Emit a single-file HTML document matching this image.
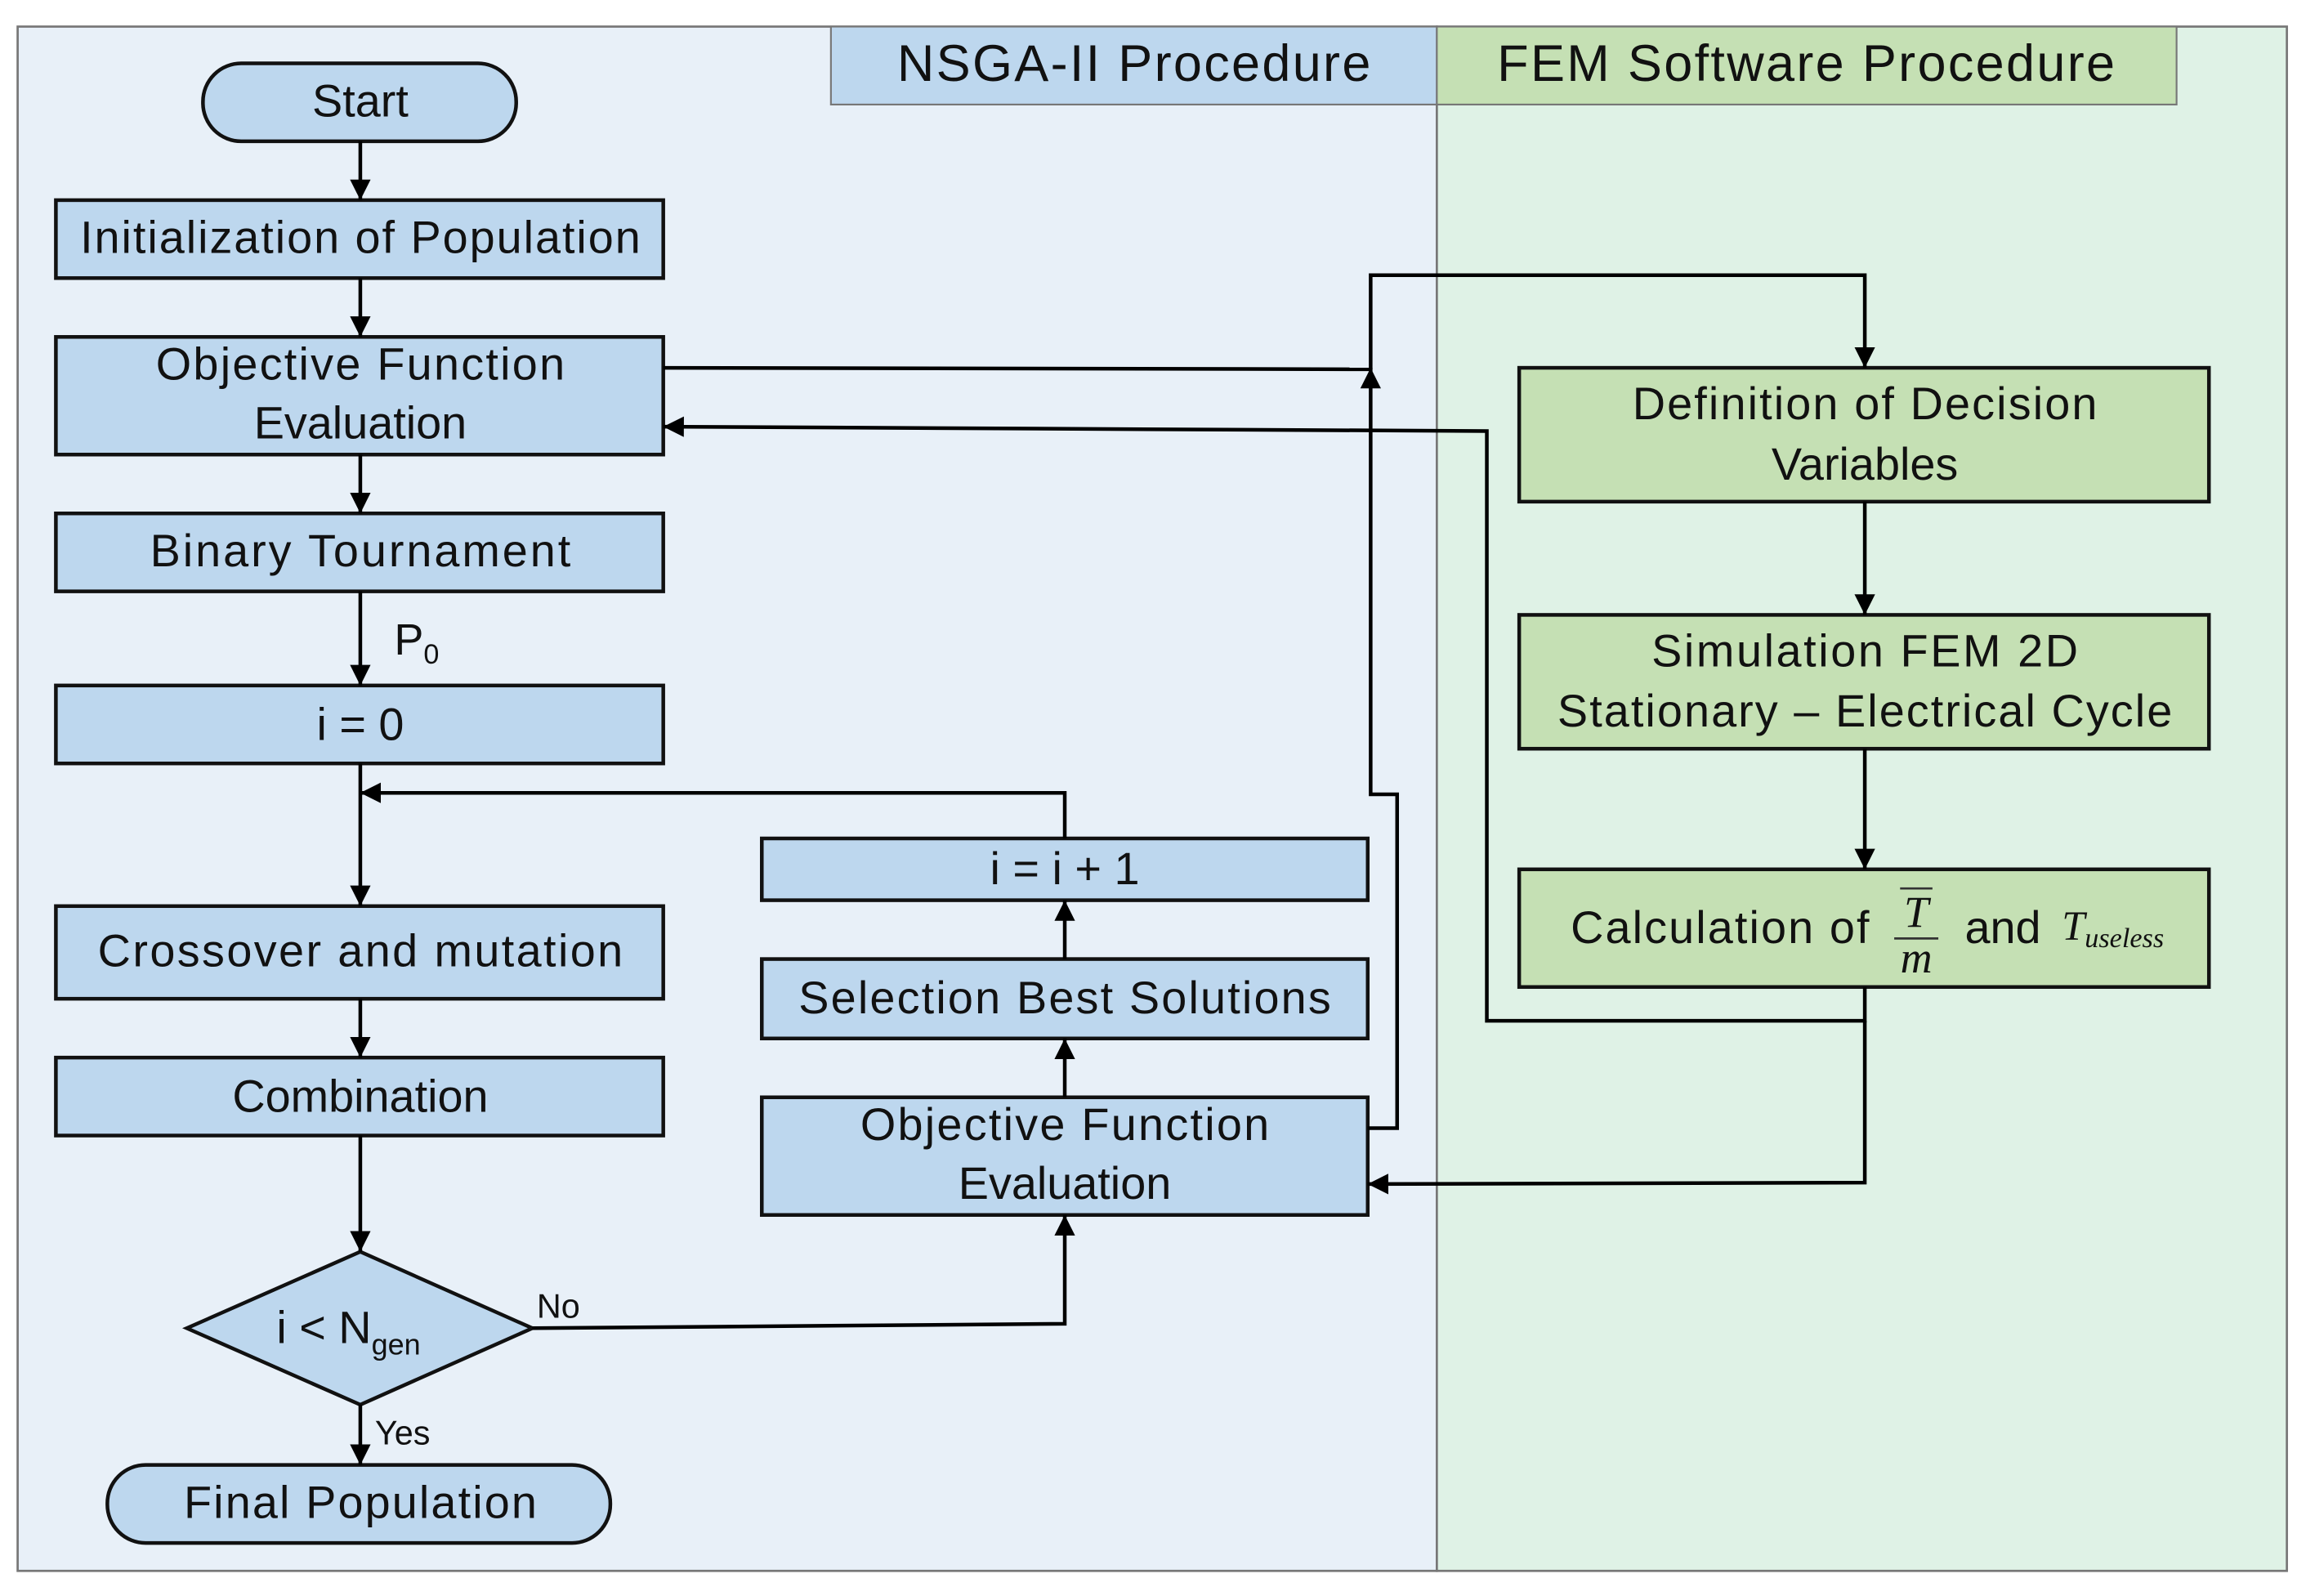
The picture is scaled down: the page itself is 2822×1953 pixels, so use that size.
<!DOCTYPE html>
<html><head><meta charset="utf-8"><style>
html,body{margin:0;padding:0;background:#fff}
svg{display:block}
text{font-family:"Liberation Sans",sans-serif;fill:#111}
</style></head><body>
<svg width="2822" height="1953" viewBox="0 0 1568 1085" xmlns="http://www.w3.org/2000/svg">
<defs><marker id="b" markerWidth="14" markerHeight="16" refX="14" refY="8" orient="auto" markerUnits="userSpaceOnUse"><path d="M0,1 L14,8 L0,15 z" fill="#000"/></marker></defs>
<rect x="12" y="18" width="965" height="1050" fill="#e8f0f8" stroke="#777" stroke-width="1.5"/>
<rect x="977" y="18" width="578" height="1050" fill="#dff2e6" stroke="#777" stroke-width="1.5"/>
<rect x="565" y="18" width="412" height="53" fill="#bdd7ee" stroke="#777" stroke-width="1.2"/>
<rect x="977" y="18" width="503" height="53" fill="#c5e0b4" stroke="#777" stroke-width="1.2"/>
<text x="771" y="55" font-size="35" text-anchor="middle" textLength="322">NSGA-II Procedure</text>
<text x="1228" y="55" font-size="35" text-anchor="middle" textLength="420">FEM Software Procedure</text>
<g fill="#bdd7ee" stroke="#111" stroke-width="2.5">
<rect x="138" y="43" width="213" height="53" rx="26"/>
<rect x="38" y="136" width="413" height="53"/>
<rect x="38" y="229" width="413" height="80"/>
<rect x="38" y="349" width="413" height="53"/>
<rect x="38" y="466" width="413" height="53"/>
<rect x="38" y="616" width="413" height="63"/>
<rect x="38" y="719" width="413" height="53"/>
<polygon points="127,903 245,851 362,903 245,955"/>
<rect x="73" y="996" width="342" height="53" rx="26"/>
<rect x="518" y="570" width="412" height="42"/>
<rect x="518" y="652" width="412" height="54"/>
<rect x="518" y="746" width="412" height="80"/>
</g>
<g fill="#c5e0b4" stroke="#111" stroke-width="2.5">
<rect x="1033" y="250" width="469" height="91"/>
<rect x="1033" y="418" width="469" height="91"/>
<rect x="1033" y="591" width="469" height="80"/>
</g>
<g font-size="31" text-anchor="middle">
<text x="245" y="79">Start</text>
<text x="245" y="172" textLength="381">Initialization of Population</text>
<text x="245" y="258" textLength="278">Objective Function</text>
<text x="245" y="298">Evaluation</text>
<text x="245" y="385" textLength="286">Binary Tournament</text>
<text x="245" y="503">i = 0</text>
<text x="245" y="657" textLength="357">Crossover and mutation</text>
<text x="245" y="756">Combination</text>
<text x="245" y="1032" textLength="240">Final Population</text>
<text x="724" y="601">i = i + 1</text>
<text x="724" y="689" textLength="362">Selection Best Solutions</text>
<text x="724" y="775" textLength="278">Objective Function</text>
<text x="724" y="815">Evaluation</text>
<text x="1268" y="285" textLength="316">Definition of Decision</text>
<text x="1268" y="326">Variables</text>
<text x="1268" y="453" textLength="290">Simulation FEM 2D</text>
<text x="1268" y="494" textLength="418">Stationary – Electrical Cycle</text>
</g>
<text x="188" y="913" font-size="31">i &lt; N<tspan font-size="20" dy="8">gen</tspan></text>
<text x="268" y="445" font-size="30">P<tspan font-size="19" dy="6">0</tspan></text>
<text x="365" y="896" font-size="23">No</text>
<text x="255" y="982" font-size="23">Yes</text>
<text x="1068" y="641" font-size="31" textLength="203">Calculation of</text>
<line x1="1292" y1="604" x2="1314" y2="604" stroke="#333" stroke-width="1.5"/>
<text x="1303" y="630" font-size="30" font-style="italic" text-anchor="middle" style="font-family:'Liberation Serif',serif">T</text>
<line x1="1288" y1="638" x2="1318" y2="638" stroke="#333" stroke-width="1.5"/>
<text x="1303" y="661" font-size="30" font-style="italic" text-anchor="middle" style="font-family:'Liberation Serif',serif">m</text>
<text x="1336" y="641" font-size="31">and</text>
<text x="1402" y="639" font-size="28" font-style="italic" style="font-family:'Liberation Serif',serif">T<tspan font-size="19" dy="5">useless</tspan></text>
<g stroke="#000" stroke-width="2.5" fill="none">
<line x1="245" y1="96" x2="245" y2="136" marker-end="url(#b)"/>
<line x1="245" y1="189" x2="245" y2="229" marker-end="url(#b)"/>
<line x1="245" y1="309" x2="245" y2="349" marker-end="url(#b)"/>
<line x1="245" y1="402" x2="245" y2="466" marker-end="url(#b)"/>
<line x1="245" y1="519" x2="245" y2="616" marker-end="url(#b)"/>
<polyline points="724,570 724,539 245,539" marker-end="url(#b)"/>
<line x1="245" y1="679" x2="245" y2="719" marker-end="url(#b)"/>
<line x1="245" y1="772" x2="245" y2="851" marker-end="url(#b)"/>
<line x1="245" y1="955" x2="245" y2="996" marker-end="url(#b)"/>
<polyline points="362,903 724,900 724,826" marker-end="url(#b)"/>
<line x1="724" y1="746" x2="724" y2="706" marker-end="url(#b)"/>
<line x1="724" y1="652" x2="724" y2="612" marker-end="url(#b)"/>
<line x1="451" y1="250" x2="932" y2="251"/>
<polyline points="930,767 950,767 950,540 932,540 932,250" marker-end="url(#b)"/>
<polyline points="932,251 932,187 1268,187 1268,250" marker-end="url(#b)"/>
<line x1="1268" y1="341" x2="1268" y2="418" marker-end="url(#b)"/>
<line x1="1268" y1="509" x2="1268" y2="591" marker-end="url(#b)"/>
<polyline points="1268,671 1268,694 1011,694 1011,293 451,290" marker-end="url(#b)"/>
<polyline points="1268,694 1268,804 930,805" marker-end="url(#b)"/>
</g>
</svg>
</body></html>
